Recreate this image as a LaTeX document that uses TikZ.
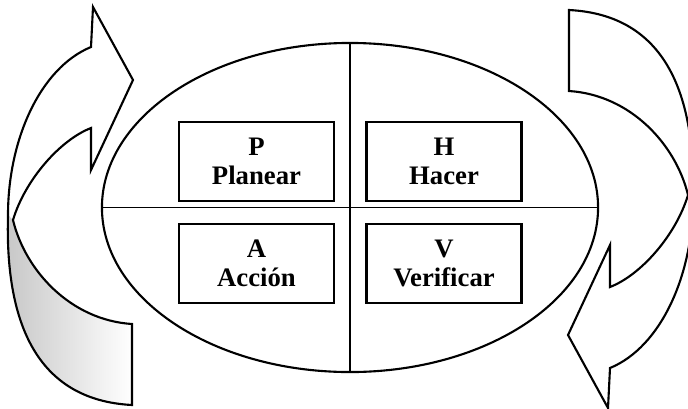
\documentclass[tikz,border=0pt]{standalone}
\usepackage{fontspec}
\setmainfont{Liberation Serif}
\usepackage{tikz}
\usetikzlibrary{shapes.geometric}

% contorno de la flecha curva (unidades en px, y hacia abajo)
\newcommand{\flechagiro}{(91,47) .. controls (40,68) and (8,140) .. (8,215)
    .. controls (5,320) and (35,400) .. (132,405) -- (132,324)
    .. controls (70,320) and (25,270) .. (13,220)
    .. controls (25,180) and (60,140) .. (91,128)
    -- (91,170) -- (133,80) -- (93,7) -- cycle}

\begin{document}
\begin{tikzpicture}[
    x=0.025cm, y=-0.025cm,
    contorno/.style={draw=black, line width=1.5pt, line join=miter},
    caja/.style={draw=black, line width=1.5pt, minimum width=3.875cm, minimum height=1.975cm,
        inner sep=0pt, align=center, font=\fontsize{19}{21}\selectfont\bfseries},
    eje/.style={draw=black, line width=1.2pt}
]
    \useasboundingbox (0,0) rectangle (688,408);
    \clip (0,0) rectangle (688,408);

    % Flecha izquierda, con la cara interior sombreada
    \shade[left color=black!22, right color=white]
        (13,220) .. controls (25,270) and (70,320) .. (132,324) -- (132,405)
        .. controls (35,400) and (5,320) .. (8,215) -- cycle;
    \draw[contorno] \flechagiro;

    % Flecha derecha (la misma, girada)
    \begin{scope}[rotate around={180:(350.5,207.5)}]
        \draw[contorno] \flechagiro;
    \end{scope}

    % Ciclo central
    \node[ellipse, contorno, minimum width=12.4cm, minimum height=8.225cm, inner sep=0pt, outer sep=0pt]
        (ring) at (350,207.5) {};
    \draw[eje] (ring.north) -- (ring.south);
    \draw[eje] (ring.west) -- (ring.east);

    \node[caja] (plan) at (256.5,161.5) {P\\Planear};
    \node[caja] (hacer) at (444,161.5) {H\\Hacer};
    \node[caja] (accion) at (256.5,263.5) {A\\Acción};
    \node[caja] (verif) at (444,263.5) {V\\Verificar};
\end{tikzpicture}
\end{document}
